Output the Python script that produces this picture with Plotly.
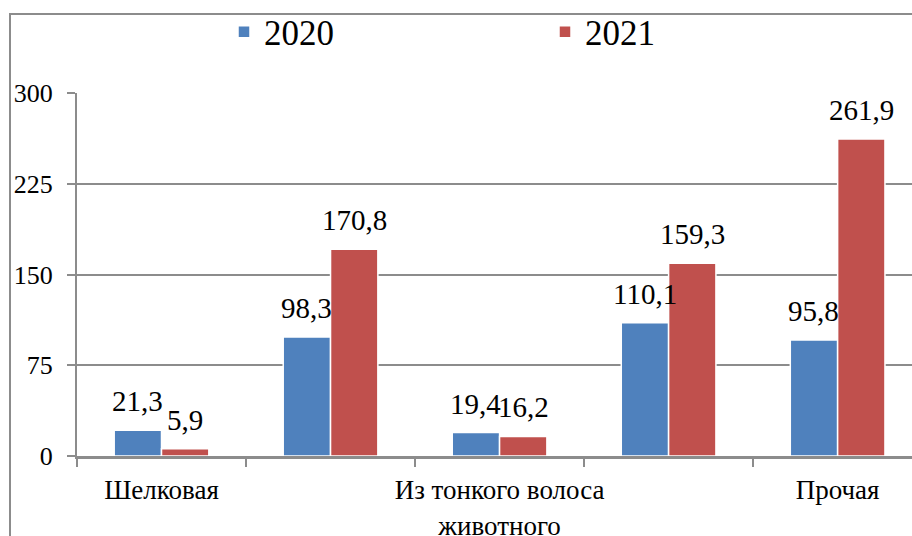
import plotly.graph_objects as go

tick_labels = ["Шелковая", "", "Из тонкого волоса<br>животного", "", "Прочая"]
series_names = ["2020", "2021"]
values_2020 = [21.3, 98.3, 19.4, 110.1, 95.8]
values_2021 = [5.9, 170.8, 16.2, 159.3, 261.9]
y_ticks = [0, 75, 150, 225, 300]

colors = ["#4F81BD", "#C0504D"]
FONT = "Liberation Serif"
GRID = "#8C8C8C"

L, R, T, B = 77, 0, 93, 80
W, H = 912, 536
pw, ph = W - L - R, H - T - B
x_range = [-0.5, 4.44]

x = list(range(len(tick_labels)))
fig = go.Figure()
for name, vals, c in zip(series_names, [values_2020, values_2021], colors):
    fig.add_trace(go.Bar(
        x=x, y=vals, name=name,
        marker=dict(color=c, line=dict(color="white", width=1.5)),
    ))

bargap = 0.44
cat_px = pw / (x_range[1] - x_range[0])
bar_px = cat_px * (1 - bargap) / 2
annotations = []
for si, vals in enumerate([values_2020, values_2021]):
    for xi, v in zip(x, vals):
        annotations.append(dict(
            x=xi, y=v, xref="x", yref="y",
            text=f"{v:.1f}".replace(".", ","),
            showarrow=False, yanchor="bottom",
            xshift=(si - 0.5) * bar_px, yshift=11,
            font=dict(family=FONT, size=29, color="black"),
        ))

fig.update_layout(
    width=W, height=H,
    margin=dict(l=L, r=R, t=T, b=B, autoexpand=False),
    paper_bgcolor="white", plot_bgcolor="white",
    barmode="group", bargap=bargap, bargroupgap=0,
    font=dict(family=FONT, size=26, color="black"),
    showlegend=True,
    legend=dict(
        orientation="h", x=(224 - L) / pw, y=1 + (T - 32) / ph,
        xanchor="left", yanchor="middle",
        entrywidth=276, entrywidthmode="pixels",
        font=dict(family=FONT, size=35, color="black"),
        bgcolor="rgba(0,0,0,0)",
    ),
    annotations=annotations,
    shapes=[dict(
        type="rect", xref="paper", yref="paper",
        x0=(10 - L) / pw, x1=1.05, y0=-0.5, y1=1 + (T - 14) / ph,
        line=dict(color=GRID, width=2), fillcolor="rgba(0,0,0,0)", layer="below",
    )],
)

fig.update_xaxes(
    range=x_range,
    tickmode="array", tickvals=x, ticktext=tick_labels,
    ticks="", showgrid=False,
    showline=True, linecolor=GRID, linewidth=3,
    minor=dict(tickmode="array", tickvals=[i - 0.5 for i in range(len(x) + 1)],
               ticks="outside", ticklen=8, tickwidth=2, tickcolor=GRID, showgrid=False),
    ticklabelstandoff=8,
    tickfont=dict(family=FONT, size=27, color="black"),
)
fig.update_yaxes(
    range=[0, 300], tickmode="array", tickvals=y_ticks,
    ticks="outside", ticklen=8, tickwidth=2, tickcolor=GRID,
    showgrid=True, gridcolor=GRID, gridwidth=2,
    showline=True, linecolor=GRID, linewidth=2,
    zeroline=False,
    ticklabelstandoff=9,
    tickfont=dict(family=FONT, size=26, color="black"),
)

fig.write_html("out.html", config={"displayModeBar": False},
               post_script="document.body.style.margin='0';")
